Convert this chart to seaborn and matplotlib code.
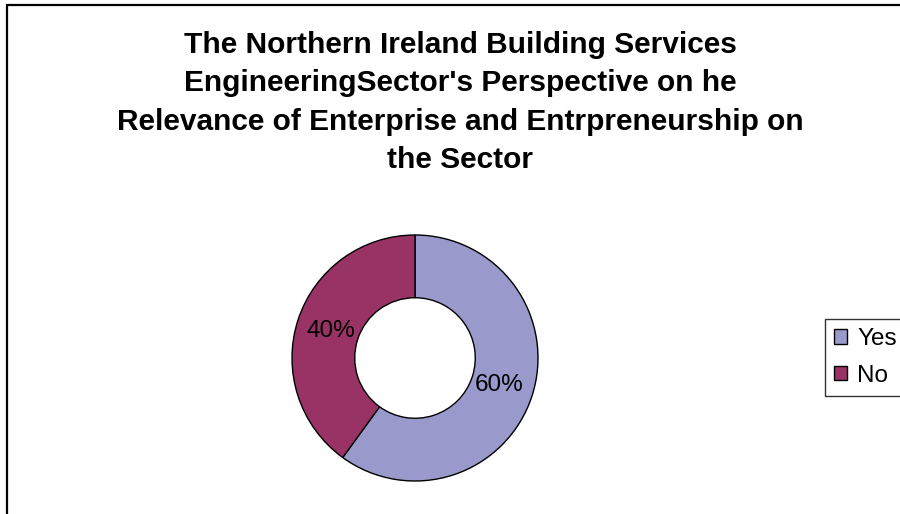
import matplotlib
matplotlib.use("Agg")
import matplotlib.pyplot as plt
from matplotlib.patches import Patch, Rectangle
import seaborn as sns

# Survey responses
categories = ["Yes", "No"]
shares = [60, 40]
colors = ["#9999CC", "#993366"]
title_lines = [
    "The Northern Ireland Building Services",
    "EngineeringSector's Perspective on he",
    "Relevance of Enterprise and Entrpreneurship on",
    "the Sector",
]

sns.set_theme(style="white")
plt.rcParams["font.family"] = ["Liberation Sans", "DejaVu Sans"]
plt.rcParams["text.color"] = "black"

W, H = 900, 514
fig = plt.figure(figsize=(W / 100, H / 100), dpi=100)
fig.patch.set_facecolor("white")

# Chart area outline (runs off the right and bottom edges)
fig.patches.append(Rectangle((7 / W, -0.2), 1.2, 1.2 - 5 / H,
                             transform=fig.transFigure, fill=False,
                             edgecolor="black", linewidth=1.6, zorder=0))

# Donut
cx, cy, r = 415, 358, 123
ax = fig.add_axes([(cx - r) / W, (H - cy - r) / H, 2 * r / W, 2 * r / H])
wedges, texts, autotexts = ax.pie(
    shares, colors=colors, startangle=90, counterclock=False,
    autopct="%d%%", pctdistance=0.72,
    wedgeprops=dict(width=0.51, edgecolor="black", linewidth=1.0),
    textprops=dict(fontsize=17.5, color="black"),
)
ax.set_xlim(-1, 1)
ax.set_ylim(-1, 1)
ax.set_aspect("equal")
ax.axis("off")

fig.text(460 / W, 1 - 31 / H, "\n".join(title_lines), ha="center", va="top",
         fontsize=21.5, fontweight="bold", linespacing=1.47, color="black")

handles = [Patch(facecolor=c, edgecolor="black", linewidth=1.0) for c in colors]
leg = fig.legend(handles, categories, loc="upper left",
                 bbox_to_anchor=(825 / W, 1 - 319 / H), borderaxespad=0,
                 frameon=True, fancybox=False, fontsize=17.5,
                 handlelength=0.55, handleheight=0.55, handletextpad=0.4,
                 labelspacing=0.6, borderpad=0.37)
leg.get_frame().set_edgecolor("black")
leg.get_frame().set_linewidth(1.0)

fig.savefig("out.png", dpi=100)
